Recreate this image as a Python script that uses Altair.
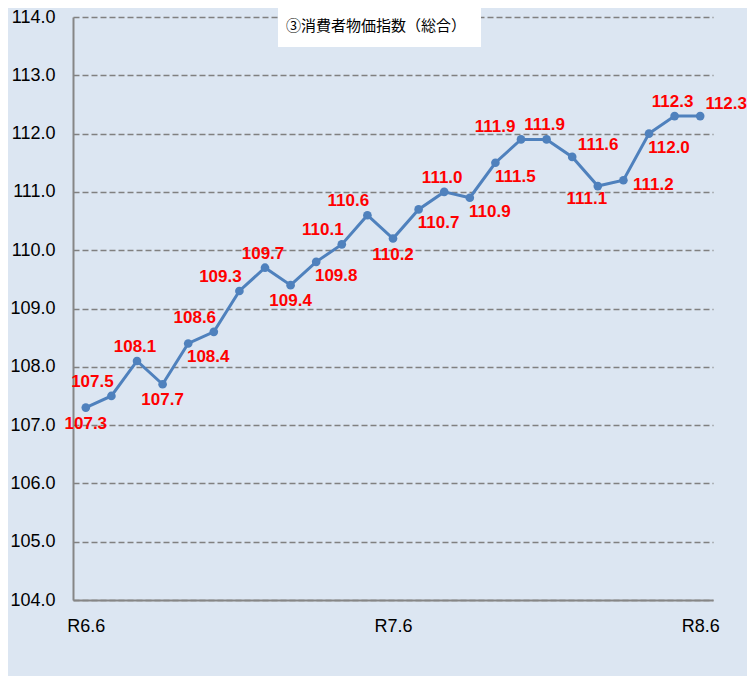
import altair as alt
import pandas as pd

# ---- data ----
months = (["R6.%d" % m for m in range(6, 13)]
          + ["R7.%d" % m for m in range(1, 13)]
          + ["R8.%d" % m for m in range(1, 7)])
values = [107.3, 107.5, 108.1, 107.7, 108.4, 108.6, 109.3, 109.7, 109.4, 109.8,
          110.1, 110.6, 110.2, 110.7, 111.0, 110.9, 111.5, 111.9, 111.9, 111.6,
          111.1, 111.2, 112.0, 112.3, 112.3]
tick_labels = ["R6.6", "R7.6", "R8.6"]
y_ticks = [104, 105, 106, 107, 108, 109, 110, 111, 112, 113, 114]
title_text = "③消費者物価指数（総合）"

# label placement (style) per point
placement = ["below", "above_left", "above", "below", "below_right", "above_left",
             "above_left", "above", "below", "below_right", "above_left", "above_left",
             "below", "below_right", "above", "below_right", "below_right", "above_left2",
             "above", "above_right", "below_left", "right", "below_right", "above",
             "above_right"]
offsets = {
    "below": (0, 16),
    "above": (-2, -14),
    "above_left": (-19, -14),
    "above_left2": (-26, -12),
    "below_right": (20, 14),
    "above_right": (26, -12),
    "below_left": (-11, 13),
    "right": (30, 5),
}

df = pd.DataFrame({"month": months, "value": values, "place": placement})
df["label"] = df["value"].map(lambda v: f"{v:.1f}")

W, H = 640, 583

x_enc = alt.X("month:O", sort=months,
              scale=alt.Scale(type="point", padding=0.5),
              axis=alt.Axis(values=tick_labels, title=None, labelAngle=0, ticks=False,
                            grid=False, domainColor="#868686", domainWidth=2,
                            labelFont="Liberation Sans", labelFontSize=18,
                            labelColor="#000000", labelPadding=17))
y_enc = alt.Y("value:Q",
              scale=alt.Scale(domain=[104, 114], nice=False, zero=False),
              axis=alt.Axis(values=y_ticks, format=".1f", title=None, ticks=False,
                            grid=True, gridColor="#808080", gridDash=[6, 3], gridWidth=1.5,
                            domainColor="#868686", domainWidth=2,
                            labelFont="Liberation Sans", labelFontSize=18,
                            labelColor="#000000", labelPadding=18))

base = alt.Chart(df)

line = base.mark_line(color="#4F81BD", strokeWidth=3).encode(x=x_enc, y=y_enc)
points = base.mark_point(filled=True, color="#4F81BD", size=75, opacity=1).encode(
    x=alt.X("month:O", sort=months), y="value:Q")

label_layers = []
for name, (dx, dy) in offsets.items():
    label_layers.append(
        base.transform_filter(alt.datum.place == name)
        .mark_text(dx=dx, dy=dy, color="#FF0000", fontWeight="bold",
                   font="Liberation Sans", fontSize=17, baseline="middle", align="center")
        .encode(x=alt.X("month:O", sort=months), y="value:Q", text="label:N")
    )

tdf = pd.DataFrame({"t": [title_text]})
title_box = alt.Chart(tdf).mark_rect(color="#FFFFFF").encode(
    x=alt.value(205), x2=alt.value(408), y=alt.value(-9), y2=alt.value(30))
title = alt.Chart(tdf).mark_text(font="Noto Sans CJK JP", fontSize=15, color="#000000",
                                 align="left", baseline="middle").encode(
    x=alt.value(213), y=alt.value(9), text="t:N")

chart = alt.layer(line, points, *label_layers, title_box, title).properties(
    width=W, height=H,
    autosize=alt.AutoSizeParams(type="none"),
    padding={"left": 65, "top": 9, "right": 34, "bottom": 76},
    background="#DCE6F2",
).configure_view(stroke=None)

chart.save("out.html", embed_options={"renderer": "svg", "actions": False})
